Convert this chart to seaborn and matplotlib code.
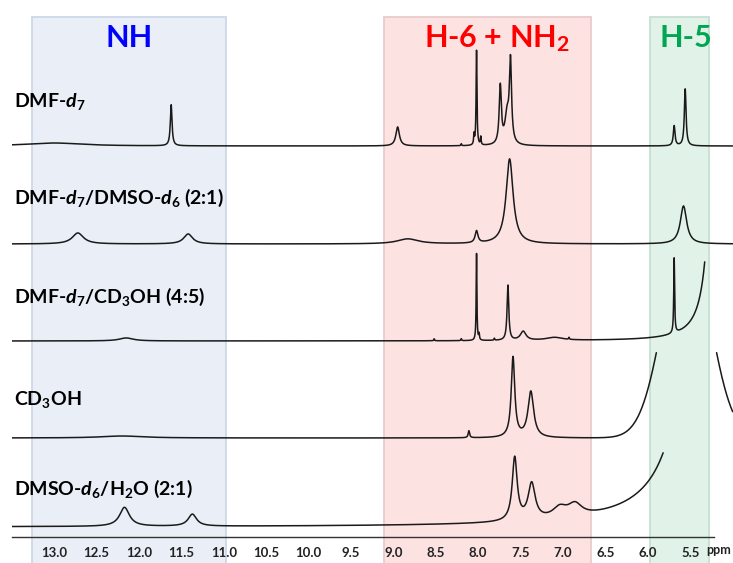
import numpy as np
import pandas as pd
import seaborn as sns
import matplotlib.pyplot as plt

# spectrum names (top to bottom)
labels = ['DMF-$d_7$', 'DMF-$d_7$/DMSO-$d_6$ (2:1)', 'DMF-$d_7$/CD$_3$OH (4:5)',
          'CD$_3$OH', 'DMSO-$d_6$/H$_2$O (2:1)']

# peak lists: position (ppm), height, half width (ppm)
dmf_pos = [13.0, 11.62, 8.95, 8.20, 8.05, 8.02, 7.97, 7.74, 7.66, 7.62, 5.69, 5.56]
dmf_amp = [3, 41, 19, 2, 10, 95, 8, 58, 29, 80, 20, 57]
dmf_hw = [0.4, 0.012, 0.025, 0.005, 0.005, 0.006, 0.005, 0.015, 0.03, 0.015, 0.012, 0.012]

dmso_pos = [12.72, 11.42, 8.83, 8.02, 7.63, 5.58]
dmso_amp = [11, 10, 5, 12, 85, 38]
dmso_hw = [0.08, 0.063, 0.15, 0.02, 0.05, 0.045]

meoh_mix_pos = [12.15, 8.52, 8.20, 8.02, 7.99, 7.81, 7.65, 7.47, 7.10, 6.93, 5.69, 5.17]
meoh_mix_amp = [3, 2, 2, 87, 6, 2, 55, 9, 3, 2, 75, 890]
meoh_mix_hw = [0.1, 0.005, 0.005, 0.005, 0.005, 0.005, 0.012, 0.04, 0.12, 0.005, 0.006, 0.05]

cd3oh_pos = [12.2, 8.11, 7.59, 7.38]
cd3oh_amp = [2, 7, 80, 46]
cd3oh_hw = [0.3, 0.01, 0.025, 0.04]
# broad solvent signal (gaussian)
cd3oh_gpos = [5.545]
cd3oh_gamp = [204]
cd3oh_gsig = [0.269]

water_pos = [12.17, 11.37, 7.57, 7.37, 7.04, 6.86, 5.2]
water_amp = [19, 12, 63, 36, 10, 12, 2920]
water_hw = [0.07, 0.06, 0.035, 0.05, 0.1, 0.1, 0.1]

positions = [dmf_pos, dmso_pos, meoh_mix_pos, cd3oh_pos, water_pos]
amplitudes = [dmf_amp, dmso_amp, meoh_mix_amp, cd3oh_amp, water_amp]
halfwidths = [dmf_hw, dmso_hw, meoh_mix_hw, cd3oh_hw, water_hw]
# truncated solvent peaks: (start, end) in ppm where the trace is cut
gaps = [None, None, (5.33, 4.9), (5.90, 5.19), (5.82, 4.9)]

# shaded regions
regions = ['NH', 'H-6 + NH$_2$', 'H-5']
region_span = [(13.26, 10.97), (9.11, 6.67), (5.98, 5.28)]
region_face = ['#e9eef7', '#fde2e2', '#e1f3e8']
region_edge = ['#cdd8e8', '#e8cccc', '#c6e0d1']
region_text = ['#0000ff', '#ff0000', '#00a651']
region_text_x = [12.11, 7.78, 5.55]

tick_vals = [13.0, 12.5, 12.0, 11.5, 11.0, 10.5, 10.0, 9.5, 9.0, 8.5, 8.0, 7.5, 7.0, 6.5, 6.0, 5.5]
tick_labels = ['13.0', '12.5', '12.0', '11.5', '11.0', '10.5', '10.0', '9.5', '9.0',
               '8.5', '8.0', '7.5', '7.0', '6.5', '6.0', '5.5']

# layout
offsets = [391, 293, 196, 99, 10]
label_y = [430, 333, 234, 132, 42]

x = np.linspace(13.5, 5.0, 12000)
frames = []
for i in range(len(labels)):
    y = np.zeros_like(x)
    for p, a, w in zip(positions[i], amplitudes[i], halfwidths[i]):
        y += a * w ** 2 / ((x - p) ** 2 + w ** 2)
    if i == 3:
        for p, a, s in zip(cd3oh_gpos, cd3oh_gamp, cd3oh_gsig):
            y += a * np.exp(-(x - p) ** 2 / (2 * s ** 2))
    y = y + offsets[i]
    if gaps[i] is None:
        frames.append(pd.DataFrame({'ppm': x, 'y': y, 'seg': f'{i}a'}))
    else:
        hi, lo = gaps[i]
        left = x >= hi
        right = x <= lo
        frames.append(pd.DataFrame({'ppm': x[left], 'y': y[left], 'seg': f'{i}a'}))
        if right.sum() > 1:
            frames.append(pd.DataFrame({'ppm': x[right], 'y': y[right], 'seg': f'{i}b'}))
df = pd.concat(frames, ignore_index=True)

sns.set_style('white')
plt.rcParams['font.family'] = ['Lato', 'DejaVu Sans']
plt.rcParams['mathtext.fontset'] = 'custom'
plt.rcParams['mathtext.rm'] = 'Lato:bold'
plt.rcParams['mathtext.bf'] = 'Lato:bold'
plt.rcParams['mathtext.it'] = 'Lato:bold:italic'

fig = plt.figure(figsize=(7.33, 5.63), dpi=100)
ax = fig.add_axes([11.7 / 733, 26 / 563, 721 / 733, 537 / 563])

for (a, b), fc, ec in zip(region_span, region_face, region_edge):
    r = ax.axvspan(a, b, ymin=-0.05, ymax=0.968, facecolor=fc, edgecolor=ec, lw=1.3, zorder=0)
    r.set_clip_on(False)

sns.lineplot(data=df, x='ppm', y='y', units='seg', estimator=None, sort=False,
             color='#1a1a1a', lw=1.1, ax=ax, legend=False)

ax.set_xlim(13.5, 5.0)
ax.set_ylim(0, 537)
ax.set_xlabel('')
ax.set_ylabel('')
ax.set_yticks([])
for s in ['left', 'right', 'top']:
    ax.spines[s].set_visible(False)
ax.spines['bottom'].set_bounds(13.5, 5.22)
ax.spines['bottom'].set_color('#333333')
ax.spines['bottom'].set_linewidth(1.0)
ax.set_xticks(tick_vals, tick_labels)
ax.set_xticks(np.round(np.arange(53, 136) / 10, 1), minor=True)
ax.tick_params(axis='x', which='major', direction='out', length=4.5, width=0.9,
               color='#333333', labelsize=9.5, pad=3, labelcolor='#222222')
ax.tick_params(axis='x', which='minor', direction='out', length=2.5, width=0.7, color='#333333')
for t in ax.get_xticklabels():
    t.set_fontweight('bold')
ax.text(5.165, -13.5, 'ppm', ha='center', va='center', fontsize=9, fontweight='bold', color='#222222')

for name, ly in zip(labels, label_y):
    ax.text(13.47, ly, name, ha='left', va='baseline', fontsize=14, fontweight='bold', color='black')

for name, tx, c in zip(regions, region_text_x, region_text):
    ax.text(tx, 490, name, ha='center', va='baseline', fontsize=22, fontweight='bold', color=c)

fig.savefig('out.png', dpi=100)
